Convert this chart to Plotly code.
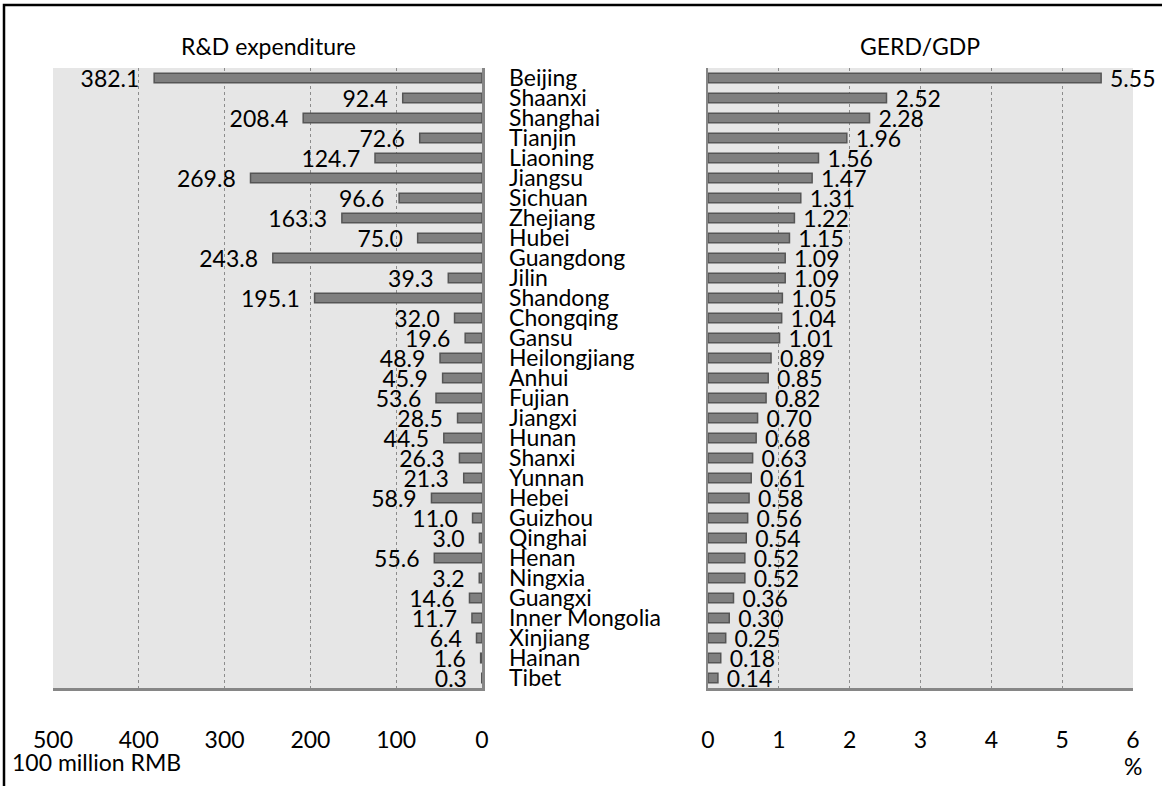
import plotly.graph_objects as go

provinces = ["Beijing", "Shaanxi", "Shanghai", "Tianjin", "Liaoning", "Jiangsu", "Sichuan",
             "Zhejiang", "Hubei", "Guangdong", "Jilin", "Shandong", "Chongqing", "Gansu",
             "Heilongjiang", "Anhui", "Fujian", "Jiangxi", "Hunan", "Shanxi", "Yunnan",
             "Hebei", "Guizhou", "Qinghai", "Henan", "Ningxia", "Guangxi", "Inner Mongolia",
             "Xinjiang", "Hainan", "Tibet"]
rd_expenditure = [382.1, 92.4, 208.4, 72.6, 124.7, 269.8, 96.6, 163.3, 75.0, 243.8, 39.3,
                  195.1, 32.0, 19.6, 48.9, 45.9, 53.6, 28.5, 44.5, 26.3, 21.3, 58.9, 11.0,
                  3.0, 55.6, 3.2, 14.6, 11.7, 6.4, 1.6, 0.3]
gerd_gdp = [5.55, 2.52, 2.28, 1.96, 1.56, 1.47, 1.31, 1.22, 1.15, 1.09, 1.09, 1.05, 1.04,
            1.01, 0.89, 0.85, 0.82, 0.70, 0.68, 0.63, 0.61, 0.58, 0.56, 0.54, 0.52, 0.52,
            0.36, 0.30, 0.25, 0.18, 0.14]
left_ticks = [500, 400, 300, 200, 100, 0]
right_ticks = [0, 1, 2, 3, 4, 5, 6]

W, H = 1162, 786
FONT = "Lato"
FS = 23
BAR_FILL = "#7f7f7f"
BAR_LINE = "#555555"
BG = "#e6e6e6"
GRID = "#8c8c8c"
AXLINE = "#868686"
NB = "\u00a0"

def px(x):
    return x / W

def py(y):
    return 1 - y / H

fig = go.Figure()

fig.add_trace(go.Bar(
    x=rd_expenditure, y=provinces, orientation="h",
    xaxis="x", yaxis="y",
    marker=dict(color=BAR_FILL, line=dict(color=BAR_LINE, width=1.5)),
    width=0.48,
    text=[f"{v:.1f}{NB}{NB}" for v in rd_expenditure], textposition="outside",
    constraintext="none",
    textfont=dict(family=FONT, size=FS, color="black"),
    cliponaxis=False, hoverinfo="skip",
))
fig.add_trace(go.Bar(
    x=gerd_gdp, y=provinces, orientation="h",
    xaxis="x2", yaxis="y2",
    marker=dict(color=BAR_FILL, line=dict(color=BAR_LINE, width=1.5)),
    width=0.48,
    text=[f"{NB}{v:.2f}" for v in gerd_gdp], textposition="outside",
    constraintext="none",
    textfont=dict(family=FONT, size=FS, color="black"),
    cliponaxis=False, hoverinfo="skip",
))

y_dom = [py(688), py(68)]

fig.update_layout(
    width=W, height=H,
    margin=dict(l=0, r=0, t=0, b=0, pad=0),
    paper_bgcolor="white",
    plot_bgcolor=BG,
    showlegend=False,
    font=dict(family=FONT, size=FS, color="black"),
    uniformtext=dict(minsize=FS, mode="show"),
    xaxis=dict(
        domain=[px(53), px(482)], range=[500, 0], anchor="y", automargin=False,
        tickmode="array", tickvals=left_ticks, ticktext=[str(t) for t in left_ticks],
        showgrid=True, gridcolor=GRID, griddash="dot", gridwidth=1,
        showline=True, linecolor=AXLINE, linewidth=2.5,
        ticks="", ticklabelstandoff=30, zeroline=False,
        tickfont=dict(family=FONT, size=FS),
    ),
    yaxis=dict(
        domain=y_dom, anchor="x", side="right", automargin=False,
        categoryorder="array", categoryarray=provinces, autorange="reversed",
        tickmode="array", tickvals=provinces, ticktext=provinces,
        showgrid=False, showline=True, linecolor=AXLINE, linewidth=2.5,
        ticks="", ticklabelstandoff=20, showticklabels=True,
        tickfont=dict(family=FONT, size=FS),
    ),
    xaxis2=dict(
        domain=[px(708), px(1133)], range=[0, 6], anchor="y2", automargin=False,
        tickmode="array", tickvals=right_ticks, ticktext=[str(t) for t in right_ticks],
        showgrid=True, gridcolor=GRID, griddash="dot", gridwidth=1,
        showline=True, linecolor=AXLINE, linewidth=2.5,
        ticks="", ticklabelstandoff=30, zeroline=False,
        tickfont=dict(family=FONT, size=FS),
    ),
    yaxis2=dict(
        domain=y_dom, anchor="x2", side="left", automargin=False,
        categoryorder="array", categoryarray=provinces, autorange="reversed",
        showgrid=False, showline=True, linecolor=AXLINE, linewidth=2.5,
        ticks="", showticklabels=False,
    ),
    annotations=[
        dict(text="R&D expenditure", x=px(268), y=py(46), xref="paper", yref="paper",
             showarrow=False, xanchor="center", yanchor="middle",
             font=dict(family=FONT, size=FS)),
        dict(text="GERD/GDP", x=px(920), y=py(46), xref="paper", yref="paper",
             showarrow=False, xanchor="center", yanchor="middle",
             font=dict(family=FONT, size=FS)),
        dict(text="100 million RMB", x=px(10), y=py(762), xref="paper", yref="paper",
             showarrow=False, xanchor="left", yanchor="middle",
             font=dict(family=FONT, size=FS)),
        dict(text="%", x=px(1133), y=py(766), xref="paper", yref="paper",
             showarrow=False, xanchor="center", yanchor="middle",
             font=dict(family=FONT, size=FS)),
    ],
    shapes=[
        dict(type="rect", xref="paper", yref="paper",
             x0=px(4), x1=px(1175), y0=py(800), y1=py(5),
             line=dict(color="black", width=2.5), fillcolor="rgba(0,0,0,0)", layer="above"),
    ],
)

fig.write_html(
    "out.html",
    config={"displayModeBar": False, "staticPlot": True},
    post_script="document.body.style.margin='0';document.documentElement.style.overflow='hidden';",
)
